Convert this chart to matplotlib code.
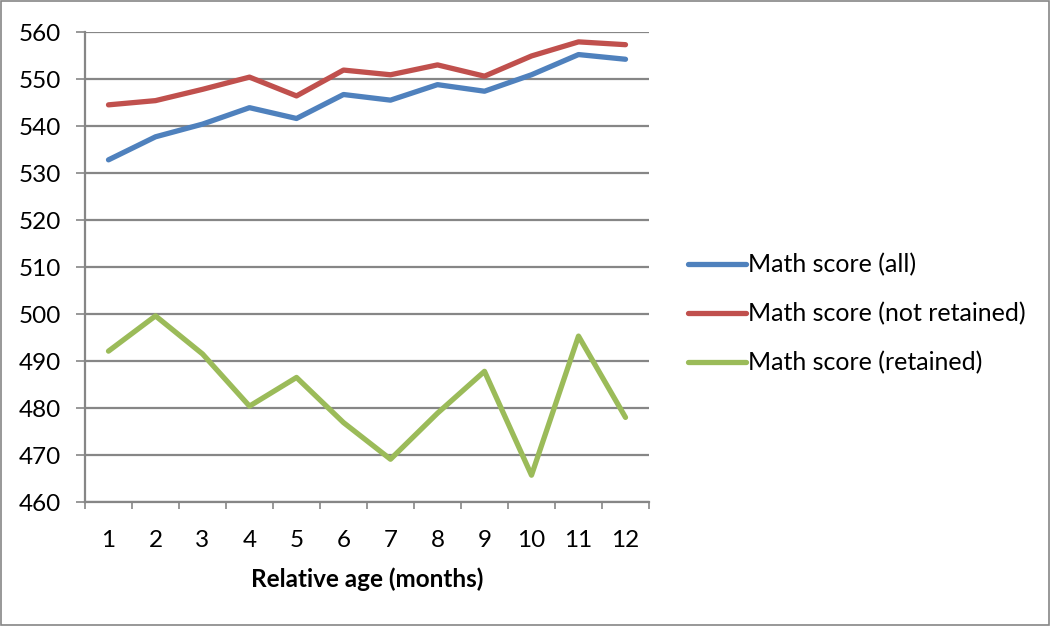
import matplotlib
matplotlib.use("Agg")
import matplotlib.pyplot as plt
from matplotlib.patches import Rectangle
import numpy as np

months = [1, 2, 3, 4, 5, 6, 7, 8, 9, 10, 11, 12]
score_all = [532.8, 537.7, 540.4, 543.9, 541.6, 546.7, 545.5, 548.8, 547.4, 550.9, 555.2, 554.2]
score_not_retained = [544.5, 545.4, 547.8, 550.4, 546.4, 551.9, 550.9, 553.0, 550.6, 554.9, 557.9, 557.3]
score_retained = [492.1, 499.6, 491.5, 480.4, 486.5, 476.9, 469.1, 478.9, 487.8, 465.7, 495.3, 478.0]

series = [
    ("Math score (all)", score_all, "#4F81BD"),
    ("Math score (not retained)", score_not_retained, "#C0504D"),
    ("Math score (retained)", score_retained, "#9BBB59"),
]

plt.rcParams["font.family"] = ["Lato", "DejaVu Sans"]
grid_color = "#868686"
fs = 17.5

fig = plt.figure(figsize=(10.51, 6.26), dpi=100)
ax = fig.add_axes([85 / 1051, 1 - 502 / 626, (649 - 85) / 1051, (502 - 32) / 626])

for label, values, color in series:
    ax.plot(months, values, color=color, lw=3.8, label=label,
            solid_capstyle="round", solid_joinstyle="round")

ax.set_xlim(0.5, 12.5)
ax.set_ylim(460, 560)
ax.set_yticks(np.arange(460, 561, 10))
ax.set_xticks(months)
ax.set_xticks(np.arange(0.5, 12.6, 1), minor=True)
ax.yaxis.grid(True, color=grid_color, lw=1.6)
ax.set_axisbelow(True)

for side in ("top", "right"):
    ax.spines[side].set_visible(False)
for side in ("left", "bottom"):
    ax.spines[side].set_color(grid_color)
    ax.spines[side].set_linewidth(1.6)

ax.tick_params(axis="x", which="major", length=0, pad=20, labelsize=fs)
ax.tick_params(axis="x", which="minor", length=5, width=1.2, color=grid_color, direction="out")
ax.tick_params(axis="y", length=6.5, width=1.2, color=grid_color, direction="out",
               pad=11, labelsize=fs)

ax.set_xlabel("Relative age (months)", fontsize=fs, fontweight="bold", labelpad=12)

leg = fig.legend(loc="center left", bbox_to_anchor=(688 / 1051, 1 - 314 / 626),
                 bbox_transform=fig.transFigure, frameon=False, fontsize=18,
                 handlelength=2.3, handletextpad=0.12, labelspacing=1.03,
                 borderpad=0, borderaxespad=0)

# outer chart border
fig.patches.append(Rectangle((0.001, 0.002), 0.997, 0.996, transform=fig.transFigure,
                             fill=False, edgecolor=grid_color, lw=1.2))

fig.savefig("out.png", dpi=100)
